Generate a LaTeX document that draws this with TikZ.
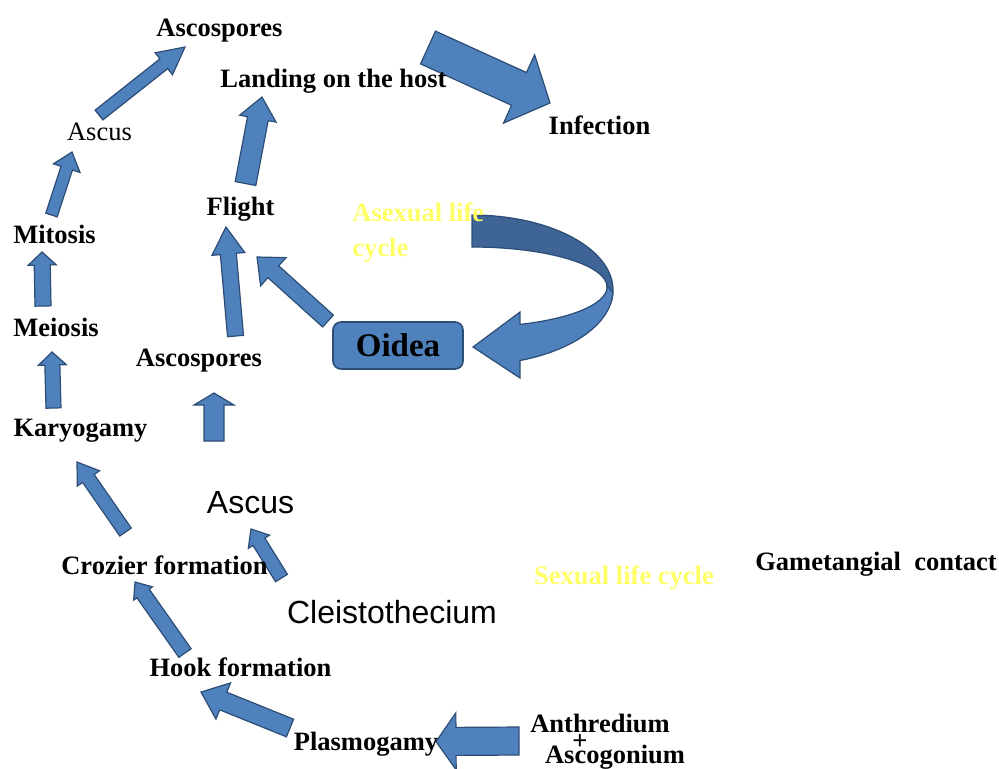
\documentclass[tikz,border=0pt]{standalone}
\usepackage{fontspec}
\setmainfont{Liberation Serif}
\newfontfamily\sansf{Liberation Sans}
\definecolor{arrfill}{RGB}{79,129,189}
\definecolor{arrline}{RGB}{44,77,117}
\definecolor{arrdark}{RGB}{62,101,150}
\definecolor{lifeyellow}{RGB}{255,255,102}
\tikzset{
  blockarrow/.style={fill=arrfill, draw=arrline, line width=0.6pt, line join=miter},
  darkpart/.style={fill=arrdark, draw=arrline, line width=0.6pt},
  lbl/.style={font=\fontsize{13.25}{15}\selectfont\bfseries, inner sep=0pt},
  lblreg/.style={font=\fontsize{13.25}{15}\selectfont, inner sep=0pt},
  sanslbl/.style={font=\sansf\fontsize{16}{18}\selectfont, inner sep=0pt},
  yellowlbl/.style={font=\fontsize{13.25}{17.5}\selectfont\bfseries, text=lifeyellow, inner sep=0pt},
  oideabox/.style={draw=arrline, fill=arrfill, line width=0.8pt, rounded corners=4pt,
    minimum width=65pt, minimum height=23.5pt, font=\fontsize{16.5}{18}\selectfont\bfseries}
}
\newcommand\barrow[7]{%
  \pgfmathsetmacro\baang{atan2(#2-#4,#3-#1)}%
  \pgfmathsetmacro\balen{veclen(#3-#1,#4-#2)}%
  \pgfmathsetmacro\babase{\balen-#7}%
  \begin{scope}[shift={(#1,#2)},rotate=\baang]
    \draw[blockarrow] (0,-#5) -- (\babase,-#5) -- (\babase,-#6) -- (\balen,0) -- (\babase,#6) -- (\babase,#5) -- (0,#5) -- cycle;
  \end{scope}}
\begin{document}
\begin{tikzpicture}[x=0.5pt,y=-0.5pt]
\useasboundingbox (0,0) rectangle (999,768);
% block arrows
\barrow{99}{115}{185}{47}{6.25}{14}{27}
\barrow{51.5}{215}{72}{152}{6}{14}{17}
\barrow{43}{306}{42}{252}{8}{14}{13}
\barrow{53.5}{408}{52}{352}{7.5}{14}{13}
\barrow{235.5}{336}{226}{227}{8}{16.5}{27}
\barrow{328}{321}{257}{257}{8}{19}{22}
\barrow{245.5}{183.5}{262}{97}{10.5}{18.5}{22}
\barrow{428}{47.5}{550}{103}{18}{37.5}{34}
\barrow{214}{441}{214}{393}{10}{20}{12}
\barrow{125.5}{532}{77}{462}{7}{13.5}{20}
\barrow{281.5}{578}{251}{529}{7}{12.5}{15}
\barrow{185}{653}{135}{582}{7.5}{11.5}{14}
\barrow{290}{728}{201}{692}{9.5}{19.5}{24}
\barrow{519}{741}{436}{741.5}{14}{28.5}{20}
% curved arrow (asexual cycle)
\draw[darkpart] plot[domain=-90:8,samples=50] ({472+141*cos(\x)},{290+75*sin(\x)})
  -- plot[domain=0:-90,samples=50] ({472+135*cos(\x)},{287+40*sin(\x)}) -- cycle;
\draw[blockarrow] plot[domain=2:70.1,samples=50] ({472+141*cos(\x)},{290+75*sin(\x)})
  -- (520,378) -- (473,347) -- (520,312)
  -- plot[domain=69.2:-3,samples=50] ({472+135*cos(\x)},{287+40*sin(\x)}) -- cycle;
% Oidea box
\node[oideabox] (oidea) at (398,345.5) {Oidea};
% labels
\node[lbl] (ascotop) at (219.5,30.5) {Ascospores};
\node[lbl] (landing) at (333.5,81.5) {Landing on the host};
\node[lbl] (infection) at (599.5,125) {Infection};
\node[lblreg] (ascustl) at (99.5,132) {Ascus};
\node[lbl] (flight) at (240.5,209.5) {Flight};
\node[lbl] (mitosis) at (54.5,234) {Mitosis};
\node[yellowlbl, align=left, anchor=west] (asexual) at (352,232.5) {Asexual life\\cycle};
\node[lbl] (meiosis) at (56,327) {Meiosis};
\node[lbl] (ascomid) at (199,360.5) {Ascospores};
\node[lbl] (karyo) at (80.5,430.5) {Karyogamy};
\node[sanslbl] (ascussans) at (250.5,503) {Ascus};
\node[lbl] (crozier) at (164.5,565) {Crozier formation};
\node[yellowlbl] (sexual) at (624,578) {Sexual life cycle};
\node[lbl] (gamet) at (876,564) {Gametangial\ \ contact};
\node[sanslbl] (cleisto) at (392,612) {Cleistothecium};
\node[lbl] (hook) at (240.5,667) {Hook formation};
\node[lbl] (plasmo) at (366,744.5) {Plasmogamy};
\node[lbl] (anthre) at (600,723) {Anthredium};
\node[lbl] (plus) at (580,742) {+};
\node[lbl] (ascogon) at (615,757) {Ascogonium};
\end{tikzpicture}
\end{document}
